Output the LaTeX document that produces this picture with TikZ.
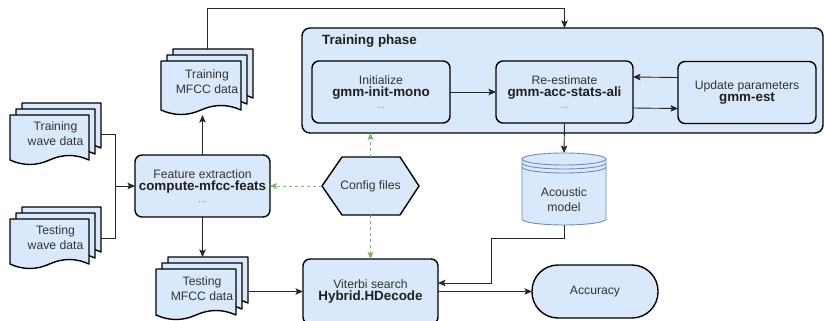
\documentclass[tikz,border=0pt]{standalone}
\usepackage{fontspec}
\setmainfont{Liberation Sans}
\usetikzlibrary{arrows.meta,calc}
\definecolor{boxfill}{HTML}{DAE8FC}
\definecolor{cylline}{HTML}{6C8EBF}
\definecolor{cfggreen}{HTML}{82B366}
\definecolor{txt}{HTML}{333333}
\definecolor{dotc}{HTML}{8A8A8A}
\newcommand{\txtr}{\fontsize{12.2}{16.5}\selectfont\color{txt}}
\newcommand{\txtb}{\fontsize{13.4}{16.5}\selectfont\bfseries\color{black!88}}
\newcommand{\txtd}{\fontsize{10}{16.5}\selectfont\color{dotc}}
\newcommand{\txtdoc}{\fontsize{12.2}{15}\selectfont}
% one page of a stack: x1 y1 x2 y2 (y downwards)
\newcommand{\docpath}[4]{%
  \filldraw[docline] ({#1},{#2}) -- ({#3},{#2}) -- ({#3},{(#4)-5})
   .. controls ({(#3)-((#3)-(#1))/6},{(#4)-11}) and ({(#3)-((#3)-(#1))/3},{(#4)-11}) .. ({((#1)+(#3))/2},{(#4)-5})
   .. controls ({(#1)+((#3)-(#1))/3},{(#4)+1}) and ({(#1)+((#3)-(#1))/6},{(#4)+1}) .. ({#1},{(#4)-5}) -- cycle;}
% stack of three pages: name x1 y1 x2 y2 text
\newcommand{\mdoc}[6]{%
  \docpath{(#2)+12}{#3}{#4}{(#5)-12}
  \docpath{(#2)+6}{(#3)+6}{(#4)-6}{(#5)-6}
  \docpath{#2}{(#3)+12}{(#4)-12}{#5}
  \pgfmathsetmacro\mdw{(#4)-(#2)}
  \pgfmathsetmacro\mdh{(#5)-(#3)}
  \node[docnode, minimum width=\mdw pt, minimum height=\mdh pt] (#1) at ({((#2)+(#4))/2},{((#3)+(#5))/2}) {#6};}
\begin{document}
\begin{tikzpicture}[x=1pt,y=-1pt,
  box/.style={draw=black, line width=1.4pt, fill=boxfill, rounded corners=7pt, align=center, inner sep=0pt, outer sep=0pt},
  docline/.style={draw=black, line width=1.4pt, fill=boxfill, line join=round},
  docnode/.style={align=center, inner sep=0pt, outer sep=0pt, font=\txtdoc, text=txt},
  arr/.style={draw=black!85, line width=0.9pt, -{Stealth[length=7.5pt,width=6.5pt,inset=1.5pt]}},
  ln/.style={draw=black!85, line width=0.9pt},
  garr/.style={draw=cfggreen, line width=0.9pt, dash pattern=on 3pt off 3pt, -{Stealth[length=7pt,width=6pt,inset=1.5pt,fill=cfggreen]}},
  cyl/.style={draw=cylline, line width=0.9pt, fill=boxfill},
]
\useasboundingbox (0,0) rectangle (824,321);
\fill[white] (0,0) rectangle (824,321);

% training phase container
\node[box, rounded corners=8pt, minimum width=521pt, minimum height=105pt] (phase) at (562.5,80.5) {};
\node[anchor=west, inner sep=0pt] (title) at (322,41) {\txtb Training phase};
\node[box, minimum width=138pt, minimum height=62pt] (init) at (381,92) {\txtr Initialize\\\txtb gmm-init-mono\\\txtd ...};
\node[box, minimum width=137pt, minimum height=62pt] (reest) at (564.5,92) {\txtr Re-estimate\\\txtb gmm-acc-stats-ali\\\txtd ...};
\node[box, minimum width=138pt, minimum height=62pt] (upd) at (747,92.5) {\txtr Update parameters\\\txtb gmm-est};

% document stacks
\mdoc{trwave}{10}{103}{101}{165}{Training\\wave data}
\mdoc{tewave}{10}{207}{101}{269}{Testing\\wave data}
\mdoc{trmfcc}{161}{49}{253}{115}{Training\\MFCC data}
\mdoc{temfcc}{156}{257}{248}{320}{Testing\\MFCC data}

% feature extraction
\node[box, minimum width=135pt, minimum height=62pt] (fe) at (202.5,186) {\txtr Feature extraction\\\txtb compute-mfcc-feats\\\txtd ...};

% config files hexagon
\node[inner sep=0pt, outer sep=0pt, minimum width=97pt, minimum height=58pt] (cfg) at (370.5,186) {};
\draw[docline] (cfg.west) -- ($(cfg.north west)+(20,0)$) -- ($(cfg.north east)+(-19,0)$) -- (cfg.east)
  -- ($(cfg.south east)+(-19,0)$) -- ($(cfg.south west)+(20,0)$) -- cycle;
\node[inner sep=0pt] (cfgtext) at (cfg.center) {\txtr Config files};

% acoustic model cylinder
\node[inner sep=0pt, outer sep=0pt, minimum width=84pt, minimum height=72pt] (am) at (564,189) {};
\filldraw[cyl] (522,159) -- (522,219) .. controls (522,222.31) and (540.8,225) .. (564,225)
  .. controls (587.2,225) and (606,222.31) .. (606,219) -- (606,159)
  .. controls (606,155.69) and (587.2,153) .. (564,153)
  .. controls (540.8,153) and (522,155.69) .. (522,159) -- cycle;
\foreach \yy in {159,163,167}{
  \draw[cyl, fill=none] (522,\yy) .. controls (522,\yy+3.31) and (540.8,\yy+6) .. (564,\yy+6)
    .. controls (587.2,\yy+6) and (606,\yy+3.31) .. (606,\yy);}
\node[align=center, inner sep=0pt, font=\txtdoc, text=txt] (amtext) at (564,200) {Acoustic\\model};

% viterbi and accuracy
\node[box, minimum width=135pt, minimum height=65pt] (vit) at (370.5,291.5) {\txtr Viterbi search\\\txtb Hybrid.HDecode};
\node[box, rounded corners=26pt, minimum width=126pt, minimum height=53pt] (acc) at (595,291.5) {\txtr Accuracy};

% connectors
\coordinate (topy) at (0,8);
\draw[arr] (trmfcc.north) -- (trmfcc.north |- topy) -| (reest.north |- phase.north);
\draw[arr] (init.east) -- (reest.west);
\draw[arr] ([yshift=15pt]upd.west) -- ([yshift=15pt]reest.east);
\draw[arr] ([yshift=-16pt]reest.east) -- ([yshift=-16pt]upd.west);
\draw[arr] (reest.south) -- (am.north);

\coordinate (join) at (115,186);
\draw[ln] (trwave.east) -| (join);
\draw[ln] (tewave.east) -| (join);
\draw[arr] (join) -- (fe.west);
\draw[arr] (fe.north) -- (fe.north |- trmfcc.south);
\draw[arr] (fe.south) -- (fe.south |- temfcc.north);
\draw[arr] (temfcc.east |- vit.west) -- (vit.west);

\draw[garr] (cfg.west) -- (fe.east);
\draw[garr] (cfg.north) -- (cfg.north |- phase.south);
\draw[garr] (cfg.south) -- (cfg.south |- vit.north);

\coordinate (b1) at (491,238);
\coordinate (b2) at (491,283);
\draw[arr] (am.south) |- (b1) -- (b2) -- (vit.east |- b2);
\draw[arr] (vit.east) -- (acc.west);
\end{tikzpicture}
\end{document}
